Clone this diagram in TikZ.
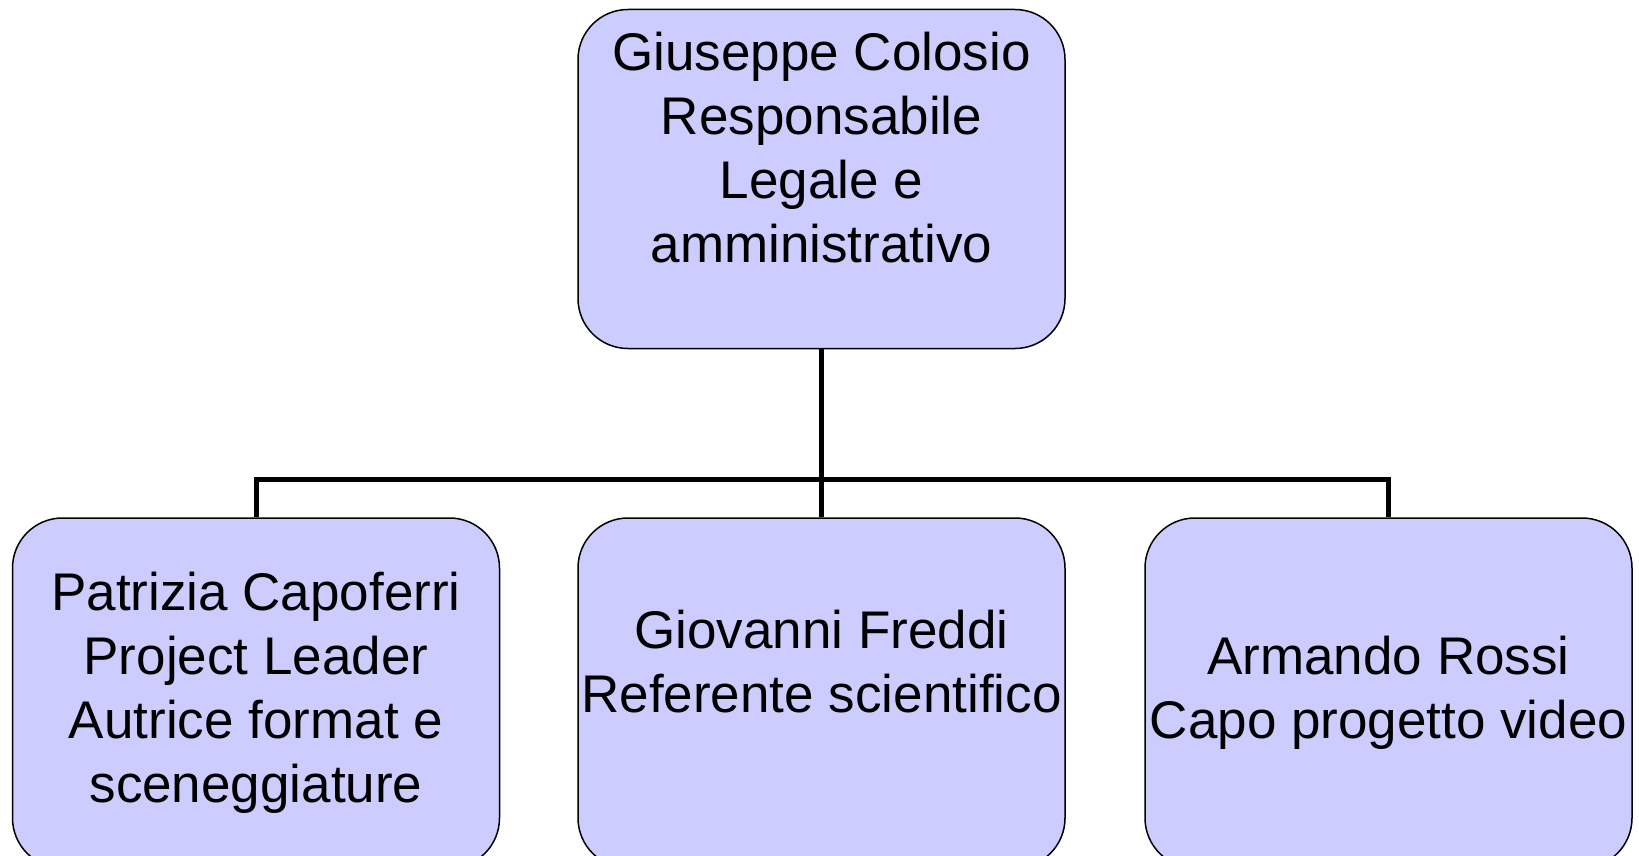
\documentclass[tikz,border=0pt]{standalone}
\usepackage{fontspec}
\setmainfont{Liberation Sans}

\definecolor{boxfill}{RGB}{204,204,255}

\begin{document}
\begin{tikzpicture}[x=1pt,y=-1pt,
    conn/.style={line width=5pt}]
            \useasboundingbox (0,0) rectangle (1639,856);
            \begin{scope}[every node/.style={rectangle,rounded corners=50pt,draw=black,line width=1.5pt,fill=boxfill,
                    minimum width=487pt,inner sep=0pt,align=center,font=\fontsize{53}{64}\selectfont}]
                \node[minimum height=339pt] (colosio) at (821.5,179) {Giuseppe Colosio\\Responsabile\\Legale e\\amministrativo\\~};
                \node[minimum height=350pt] (capoferri) at (256,693) {Patrizia Capoferri\\Project Leader\\Autrice format e\\sceneggiature};
                \node[minimum height=350pt] (freddi) at (821.5,693) {Giovanni Freddi\\Referente scientifico\\~};
                \node[minimum height=350pt] (rossi) at (1388.5,693) {Armando Rossi\\Capo progetto video};
            \end{scope}
            \coordinate (bar) at (821.5,479);
            \draw[conn] (colosio.south) -- (freddi.north);
            \draw[conn] (bar) -| (capoferri.north);
            \draw[conn] (bar) -| (rossi.north);
        \end{tikzpicture}
\end{document}
